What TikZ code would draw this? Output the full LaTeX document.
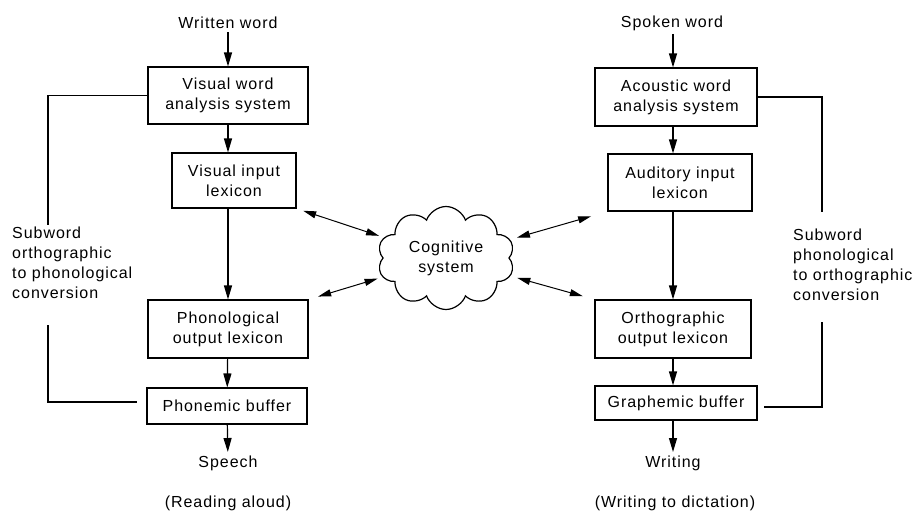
\documentclass[tikz,border=0pt]{standalone}
\usepackage{fontspec}
\setmainfont[LetterSpace=6]{Liberation Sans}
\usetikzlibrary{positioning,shapes.symbols,arrows.meta}
\tikzstyle{block}=[draw, line width=1.1pt, align=center, inner sep=0pt]
\tikzstyle{note}=[align=left, anchor=west, inner sep=0pt]
\tikzstyle{arrow}=[line width=1.2pt,-{Triangle[length=14pt,width=8pt]}]
\tikzstyle{both}=[line width=1pt,{Triangle[length=13pt,width=7pt]}-{Triangle[length=13pt,width=7pt]}]
\tikzstyle{route}=[line width=1.1pt]

\begin{document}
\begin{tikzpicture}[x=1pt,y=-1pt,font=\fontsize{16}{20}\selectfont]
    \useasboundingbox (0,0) rectangle (912,517);
    % reading aloud
    \node (wri) at (228,23) {Written word};
    \node (vis) [block,minimum width=160pt,minimum height=57pt] at (228,95.5) {Visual word\\analysis system};
    \node (vil) [block,minimum width=124pt,minimum height=55pt] at (234,180.5) {Visual input\\lexicon};
    \node (pol) [block,minimum width=160pt,minimum height=58pt] at (228,329) {Phonological\\output lexicon};
    \node (pbuf) [block,minimum width=160pt,minimum height=36pt] at (227,406) {Phonemic buffer};
    \node (spe) at (228,463) {Speech};
    \node (rea) at (228,503) {(Reading aloud)};
    \node (subl) [note] at (12,263) {Subword\\orthographic\\to phonological\\conversion};
    % writing to dictation
    \node (spk) at (672,23) {Spoken word};
    \node (aco) [block,minimum width=162pt,minimum height=58pt] at (676,97) {Acoustic word\\analysis system};
    \node (ail) [block,minimum width=144pt,minimum height=57pt] at (680,182.5) {Auditory input\\lexicon};
    \node (ool) [block,minimum width=156pt,minimum height=58pt] at (673,329) {Orthographic\\output lexicon};
    \node (gbuf) [block,minimum width=162pt,minimum height=34pt] at (676,403) {Graphemic buffer};
    \node (wrt) at (673,463) {Writing};
    \node (dic) at (675,503) {(Writing to dictation)};
    \node (subr) [note] at (793,265) {Subword\\phonological\\to orthographic\\conversion};
    % cloud
    \node (cog) [cloud,draw,line width=1.2pt,cloud puffs=10,cloud puff arc=140,aspect=1.35,
        minimum width=137pt,minimum height=103pt,inner sep=0pt,align=center] at (446,258) {Cognitive\\system};
    \coordinate (rc) at (673,0);
    \coordinate (lt) at (48,225);
    \coordinate (lb) at (48,325);
    \coordinate (rt) at (822,212);
    \coordinate (rb) at (822,322);

    \draw[arrow] (wri) -- (vis);
    \draw[arrow] (vis.south) -- (vis.south |- vil.north);
    \draw[arrow] (pol.north |- vil.south) -- (pol.north);
    \draw[arrow] (pol) -- (pbuf);
    \draw[arrow] (pbuf) -- (spe);
    \draw[arrow] (spk.south -| rc) -- (aco.north -| rc);
    \draw[arrow] (aco.south -| rc) -- (ail.north -| rc);
    \draw[arrow] (ail.south -| rc) -- (ool.north -| rc);
    \draw[arrow] (ool.south -| rc) -- (gbuf.north -| rc);
    \draw[arrow] (gbuf.south -| rc) -- (wrt.north -| rc);

    \draw[both,shorten <=7pt,shorten >=5pt] (vil.south east) -- (cog);
    \draw[both,shorten <=10pt,shorten >=5pt] (pol.north east) -- (cog);
    \draw[both,shorten <=17pt,shorten >=7pt] (ail.south west) -- (cog);
    \draw[both,shorten <=12pt,shorten >=7pt] (ool.north west) -- (cog);

    \draw[route] (vis.west) -| (lt);
    \draw[route] (lb) |- ([shift={(-9,-4)}]pbuf.west);
    \draw[route] (aco.east) -| (rt);
    \draw[route] (rb) |- ([shift={(6,4)}]gbuf.east);
\end{tikzpicture}
\end{document}
